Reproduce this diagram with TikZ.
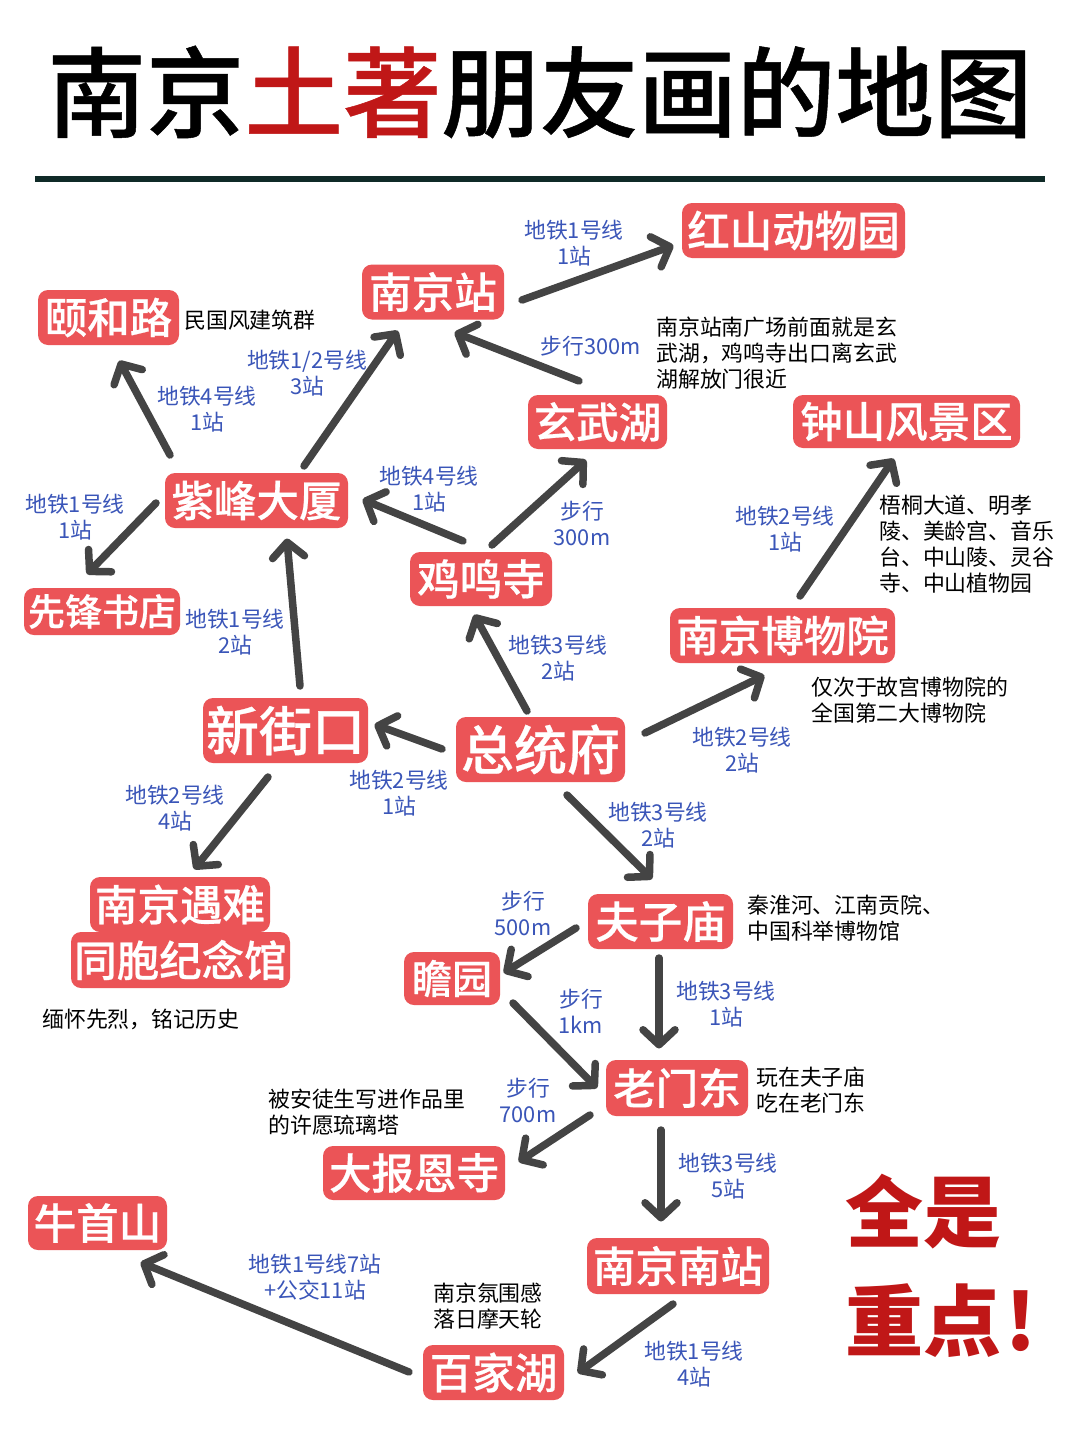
\documentclass[tikz,border=0pt]{standalone}
\usepackage{fontspec}
\setmainfont{Noto Sans CJK SC}
\newfontfamily\medfont[UprightFont={* Medium},FakeBold=0.5]{Noto Sans CJK SC}
\usetikzlibrary{arrows.meta,calc}
\definecolor{boxred}{HTML}{EB5457}
\definecolor{titlered}{HTML}{C01717}
\definecolor{linkgrey}{HTML}{444444}
\definecolor{labelblue}{HTML}{3A55B8}
\definecolor{ruledark}{HTML}{0F2A27}
\tikzset{
  place/.style={fill=boxred,rounded corners=10pt,inner sep=0pt,text=white,align=center,
    font=\fontsize{42.5}{50}\selectfont\medfont},
  placebig/.style={place,font=\fontsize{53}{60}\selectfont\medfont},
  placesmall/.style={place,font=\fontsize{37}{44}\selectfont\medfont},
  route/.style={text=labelblue,align=center,inner sep=0pt,font=\fontsize{21.8}{26}\selectfont},
  note/.style={text=black,align=left,anchor=west,inner sep=0pt,font=\fontsize{21.9}{26}\selectfont},
  link/.style={draw=linkgrey,line width=7.5pt,line cap=round,shorten >=-1.5pt,
    -{Straight Barb[length=15pt,width=32pt,line width=7.5pt,round]}},
}
\begin{document}
\begin{tikzpicture}[x=1pt,y=-1pt]
\useasboundingbox (0,0) rectangle (1080,1440);
\fill[white] (0,0) rectangle (1080,1440);
% title
\node[inner sep=0pt,font=\fontsize{98.5}{110}\selectfont\medfont] (title) at (540,92)
  {南京\textcolor{titlered}{土著}朋友画的地图};
\coordinate (ruleL) at (35,179);
\coordinate (ruleR) at (1045,179);
\draw[ruledark,line width=6pt] (ruleL) -- (ruleR);
% places
\node[place,minimum width=223pt,minimum height=55pt] (hs) at (793.5,230.5) {红山动物园};
\node[place,minimum width=142pt,minimum height=55pt] (nj) at (433,292) {南京站};
\node[place,minimum width=141pt,minimum height=55pt] (yh) at (108.5,317.5) {颐和路};
\node[place,minimum width=183pt,minimum height=55pt] (zf) at (256.5,500.5) {紫峰大厦};
\node[placesmall,minimum width=156pt,minimum height=47pt] (xf) at (102,611.5) {先锋书店};
\node[place,minimum width=139pt,minimum height=54pt] (xw) at (597.5,422) {玄武湖};
\node[place,minimum width=227pt,minimum height=53pt] (zs) at (906.5,421.5) {钟山风景区};
\node[place,minimum width=142pt,minimum height=54pt] (jm) at (481,579) {鸡鸣寺};
\node[place,minimum width=225pt,minimum height=55pt] (bw) at (782.5,635.5) {南京博物院};
\node[placebig,minimum width=165pt,minimum height=65pt] (xj) at (285.5,730.5) {新街口};
\node[placebig,minimum width=169pt,minimum height=65pt] (zt) at (540.5,749.5) {总统府};
\node[place,minimum width=180pt,minimum height=55pt] (ny) at (180,904.5) {南京遇难};
\node[place,minimum width=219pt,minimum height=56pt] (tb) at (180.5,960) {同胞纪念馆};
\node[place,font=\fontsize{43.5}{50}\selectfont\medfont,minimum width=145pt,minimum height=55pt] (fz) at (660.5,921.5) {夫子庙};
\node[place,font=\fontsize{40}{48}\selectfont\medfont,minimum width=96pt,minimum height=53pt] (zy) at (452,978.5) {瞻园};
\node[place,minimum width=142pt,minimum height=56pt] (lm) at (677,1088) {老门东};
\node[place,minimum width=182pt,minimum height=54pt] (db) at (414,1173) {大报恩寺};
\node[place,minimum width=139pt,minimum height=54pt] (ns) at (97.5,1223) {牛首山};
\node[place,minimum width=182pt,minimum height=56pt] (nn) at (678,1266) {南京南站};
\node[place,minimum width=141pt,minimum height=55pt] (bj) at (493.5,1372.5) {百家湖};
% connectors
\draw[link] ($(nj)+(89,8)$) -- ($(hs)+(-121.5,15.5)$);
\draw[link] ($(xw)+(-18.5,-41)$) -- ($(nj)+(23,41)$);
\draw[link] ($(zf)+(47.5,-34.5)$) -- ($(nj)+(-36,40)$);
\draw[link] ($(zf)+(-86.5,-45.5)$) -- ($(yh)+(11.5,44.5)$);
\draw[link] ($(zf)+(-100.5,2.5)$) -- ($(xf)+(-14,-38.5)$);
\draw[link] ($(jm)+(-18,-38)$) -- ($(zf)+(107.5,-0.5)$);
\draw[link] ($(jm)+(11,-34)$) -- ($(xw)+(-12.5,39)$);
\draw[link] ($(xj)+(14.5,-44.5)$) -- ($(zf)+(30.5,39.5)$);
\draw[link] ($(zt)+(-13.5,-38.5)$) -- ($(jm)+(-6,37)$);
\draw[link] ($(zt)+(-98.5,-0.5)$) -- ($(xj)+(90.5,-5.5)$);
\draw[link] ($(zt)+(104.5,-16.5)$) -- ($(bw)+(-19.5,40.5)$);
\draw[link] ($(bw)+(17.5,-39.5)$) -- ($(zs)+(-13.5,38.5)$);
\draw[link] ($(xj)+(-17.5,46.5)$) -- ($(ny)+(15,-36.5)$);
\draw[link] ($(zt)+(26.5,45.5)$) -- ($(fz)+(-9.5,-43.5)$);
\draw[link] ($(fz)+(-84.5,6.5)$) -- ($(zy)+(53,-6.5)$);
\draw[link] ($(fz)+(-1.5,36.5)$) -- ($(lm)+(-18,-41)$);
\draw[link] ($(zy)+(61,24.5)$) -- ($(lm)+(-81,-1)$);
\draw[link] ($(lm)+(-87,27)$) -- ($(db)+(106,-12)$);
\draw[link] ($(lm)+(-16,42)$) -- ($(nn)+(-17,-46)$);
\draw[link] ($(nn)+(-5,38)$) -- ($(bj)+(85.5,-0.5)$);
\draw[link] ($(bj)+(-84.5,-0.5)$) -- ($(ns)+(44.5,40)$);
% route labels
\node[route] (r1) at (574,243) {地铁1号线\\1站};
\node[route] (r2) at (307,373) {地铁1/2号线\\3站};
\node[route] (r3) at (207,409) {地铁4号线\\1站};
\node[route] (r4) at (591,346) {步行300m};
\node[route] (r5) at (75,517) {地铁1号线\\1站};
\node[route] (r6) at (429,489) {地铁4号线\\1站};
\node[route] (r7) at (582,523) {步行\\300m};
\node[route] (r8) at (785,529) {地铁2号线\\1站};
\node[route] (r9) at (235,632) {地铁1号线\\2站};
\node[route] (r10) at (558,658) {地铁3号线\\2站};
\node[route] (r11) at (742,750) {地铁2号线\\2站};
\node[route] (r12) at (399,793) {地铁2号线\\1站};
\node[route] (r13) at (175,808) {地铁2号线\\4站};
\node[route] (r14) at (658,825) {地铁3号线\\2站};
\node[route] (r15) at (523,913) {步行\\500m};
\node[route] (r16) at (726,1004) {地铁3号线\\1站};
\node[route] (r17) at (581,1011) {步行\\1km};
\node[route] (r18) at (528,1100) {步行\\700m};
\node[route] (r19) at (728,1176) {地铁3号线\\5站};
\node[route] (r20) at (315,1277) {地铁1号线7站\\+公交11站};
\node[route] (r21) at (694,1364) {地铁1号线\\4站};
% notes
\node[note] (n1) at (184,320) {民国风建筑群};
\node[note] (n2) at (656,353) {南京站南广场前面就是玄\\武湖，鸡鸣寺出口离玄武\\湖解放门很近};
\node[note] (n3) at (879,544) {梧桐大道、明孝\\陵、美龄宫、音乐\\台、中山陵、灵谷\\寺、中山植物园};
\node[note] (n4) at (811,700) {仅次于故宫博物院的\\全国第二大博物院};
\node[note] (n5) at (747,918) {秦淮河、江南贡院、\\中国科举博物馆};
\node[note] (n6) at (42,1019) {缅怀先烈，铭记历史};
\node[note] (n7) at (756,1090) {玩在夫子庙\\吃在老门东};
\node[note] (n8) at (268,1112) {被安徒生写进作品里\\的许愿琉璃塔};
\node[note] (n9) at (433,1306) {南京氛围感\\落日摩天轮};
% slogan
\node[inner sep=0pt,text=titlered,anchor=west,font=\fontsize{78}{90}\selectfont\bfseries] (s1) at (845,1212) {全是};
\node[inner sep=0pt,text=titlered,anchor=west,font=\fontsize{78}{90}\selectfont\bfseries] (s2) at (845,1321) {重点\hspace{4pt}!};
\end{tikzpicture}
\end{document}
